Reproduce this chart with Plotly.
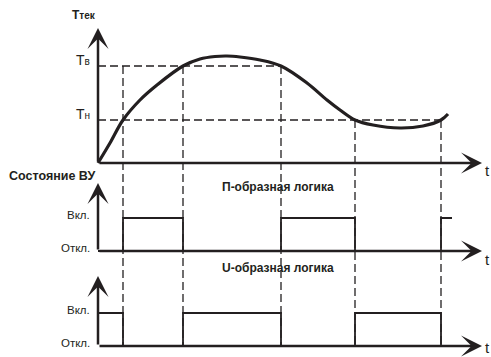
import plotly.graph_objects as go

# моменты пересечения порогов (условные единицы времени)
t_cross = [2.5, 8.5, 18.3, 25.7, 34.3]
t_p_end = 35.4

# пороги
T_V = 97   # Тв
T_N = 43   # Тн

# кривая Ттек
curve_t = [0, 1.2, 2.5, 4.2, 5.9, 8.5, 10.2, 11.7, 12.9, 14.2, 16.2, 18.3,
           20.9, 22.9, 24.2, 25.7, 27.5, 30.2, 32.5, 34.3, 35.0]
curve_T = [0, 20, 43, 63, 78, 97, 104, 106.5, 107, 106, 103, 97,
           80, 63, 53, 43, 38, 35, 37, 43, 49]

# состояние ВУ на интервалах [0, t1), [t1, t2), ...
p_state = [0, 1, 0, 1, 0, 1]
u_state = [1, 0, 1, 0, 1, 0]
dash_from = [T_V, T_V, T_V, T_N, T_N]

INK = '#231f20'
SANS = 'Liberation Sans, Arial, sans-serif'

# раскладка в пикселях окна (отступ body убирается скриптом ниже)
W, H = 491, 357
X0, PX_T = 98, 10
TOP_O, MID_O, BOT_O = 163, 251, 346
PX_S = 33


def yrange(origin, scale):
    return [-(H - origin) / scale, origin / scale]


def paper(x, y):
    return x / W, 1 - y / H


x_tip = (482 - X0) / PX_T
T_tip = TOP_O - 28
s_tip_mid = (MID_O - 183) / PX_S
s_tip_bot = (BOT_O - 276) / PX_S
T_bottom = TOP_O - BOT_O

fig = go.Figure()

# пунктир
dx, dy = [], []
for tc, lv in zip(t_cross, dash_from):
    dx += [tc, tc, None]
    dy += [lv, T_bottom, None]
dx += [0, t_cross[2], None, 0, t_cross[4]]
dy += [T_V, T_V, None, T_N, T_N]
fig.add_trace(go.Scatter(x=dx, y=dy, mode='lines',
                         line=dict(color=INK, width=1.3, dash='8px,4px')))

fig.add_trace(go.Scatter(x=curve_t, y=curve_T, mode='lines',
                         line=dict(color=INK, width=3.2, shape='spline')))

fig.add_trace(go.Scatter(x=[0] + t_cross + [t_p_end], y=p_state + [p_state[-1]], yaxis='y2',
                         mode='lines', line=dict(color=INK, width=1.8, shape='hv')))
fig.add_trace(go.Scatter(x=[0] + t_cross, y=u_state, yaxis='y3',
                         mode='lines', line=dict(color=INK, width=1.8, shape='hv')))

ann = []
for yr, ytip, t_y in (('y', T_tip, 170), ('y2', s_tip_mid, 259), ('y3', s_tip_bot, 347)):
    for (x, y) in ((x_tip, 0), (0, ytip)):
        ann.append(dict(x=x, y=y, ax=0, ay=0, xref='x', yref=yr, axref='x', ayref=yr,
                        text='', showarrow=True, arrowhead=3, arrowsize=1.4,
                        arrowwidth=2.5, arrowcolor=INK, standoff=0))
    ann.append(dict(x=1, y=paper(0, t_y)[1], xref='paper', yref='paper', text='t',
                    showarrow=False, xanchor='right', yanchor='middle', borderpad=0,
                    font=dict(family=SANS, size=15, color=INK)))

for lv, lab in ((T_V, 'Т<span style="font-size:10px">в</span>'),
                (T_N, 'Т<span style="font-size:10px">н</span>')):
    ann.append(dict(x=0, y=lv, xref='x', yref='y', text=lab, showarrow=False,
                    xanchor='right', yanchor='bottom', xshift=-6, yshift=-4,
                    font=dict(family=SANS, size=14, color=INK)))
for yr in ('y2', 'y3'):
    for s, lab in ((0, 'Откл.'), (1, 'Вкл.')):
        ann.append(dict(x=0, y=s, xref='x', yref=yr, text=lab, showarrow=False,
                        xanchor='right', yanchor='middle', xshift=-6, yshift=3,
                        font=dict(family=SANS, size=11.5, color=INK)))

for text, (px, py), anchor, font in (
        ('<b>Т<span style="font-size:10px">тек</span></b>', (70, 15), 'left',
         dict(family=SANS, size=12, color=INK)),
        ('<b>Состояние ВУ</b>', (7, 176), 'left', dict(family=SANS, size=12.5, color=INK)),
        ('<b>П-образная логика</b>', (278, 187), 'center', dict(family=SANS, size=12, color=INK)),
        ('<b>U-образная логика</b>', (278, 268), 'center', dict(family=SANS, size=12, color=INK))):
    x, y = paper(px, py)
    ann.append(dict(x=x, y=y, xref='paper', yref='paper', text=text, showarrow=False,
                    xanchor=anchor, yanchor='middle', font=font))

ax_off = dict(visible=False, domain=[0, 1])
fig.update_layout(
    width=W, height=H, margin=dict(l=0, r=0, t=0, b=0),
    paper_bgcolor='white', plot_bgcolor='white', showlegend=False,
    xaxis=dict(ax_off, range=[-X0 / PX_T, (W - X0) / PX_T]),
    yaxis=dict(ax_off, range=yrange(TOP_O, 1)),
    yaxis2=dict(ax_off, range=yrange(MID_O, PX_S), overlaying='y'),
    yaxis3=dict(ax_off, range=yrange(BOT_O, PX_S), overlaying='y'),
    annotations=ann,
)

fig.write_html('out.html', config={'displayModeBar': False},
               post_script="document.body.style.margin='0';document.body.style.overflow='hidden';")
